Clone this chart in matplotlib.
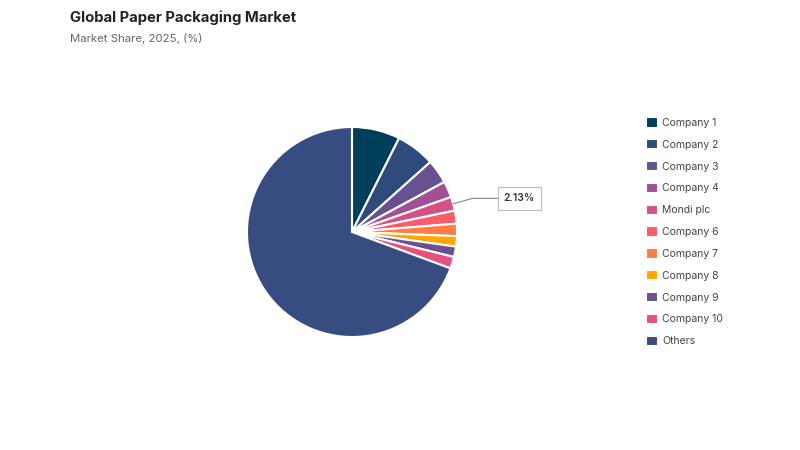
import matplotlib
matplotlib.use("Agg")
import matplotlib.pyplot as plt
import numpy as np

plt.rcParams['font.family'] = ['Inter', 'DejaVu Sans']

categories = ["Company 1", "Company 2", "Company 3", "Company 4", "Mondi plc",
              "Company 6", "Company 7", "Company 8", "Company 9", "Company 10", "Others"]
shares = [7.4, 6.0, 3.7, 2.5, 2.13, 2.0, 1.9, 1.6, 1.6, 1.8, 69.37]
colors = ["#003f5c", "#2f4b7c", "#665191", "#a05195", "#d45087", "#f95d6a",
          "#ff7c43", "#ffa600", "#6a4f92", "#e8507e", "#374c80"]
highlight = "Mondi plc"

fig = plt.figure(figsize=(8, 4.5), dpi=100)
cx, cy, r = 352, 232, 105
ax = fig.add_axes([(cx - r) / 800, (450 - cy - r) / 450, 2 * r / 800, 2 * r / 450])
wedges, _ = ax.pie(shares, colors=colors, startangle=90, counterclock=False,
                   wedgeprops=dict(edgecolor="white", linewidth=1.5))
ax.set_xlim(-1, 1)
ax.set_ylim(-1, 1)
ax.set_aspect("equal")

# annotation for highlighted slice
idx = categories.index(highlight)
w = wedges[idx]
mid = np.deg2rad((w.theta1 + w.theta2) / 2)
p0 = (np.cos(mid), np.sin(mid))
p1 = (1.19 * np.cos(mid), 1.19 * np.sin(mid))
p2 = (1.42, p1[1])
ax.plot([p0[0], p1[0], p2[0]], [p0[1], p1[1], p2[1]], color="#888888", lw=0.8,
        clip_on=False)
ax.text(1.595, p1[1], f"{shares[idx]:.2f}%", ha="center", va="center", fontsize=7.5,
        fontweight="semibold", color="#333333", clip_on=False,
        bbox=dict(boxstyle="square,pad=0.6", fc="white", ec="#bbbbbb", lw=0.8))

leg = fig.legend(wedges, categories, loc="upper left", bbox_to_anchor=(642 / 800, 1 - 113 / 450),
                 frameon=False, fontsize=7.5, handlelength=1.15, handleheight=1.15,
                 handletextpad=0.4, labelspacing=1.07, borderaxespad=0)
for t in leg.get_texts():
    t.set_color("#444444")

fig.text(70 / 800, 1 - 18 / 450, "Global Paper Packaging Market", fontsize=10.7,
         fontweight="bold", color="#222222", va="center", ha="left")
fig.text(70 / 800, 1 - 38 / 450, "Market Share, 2025, (%)", fontsize=8.2,
         color="#666666", va="center", ha="left")

fig.savefig("out.png", dpi=100)
